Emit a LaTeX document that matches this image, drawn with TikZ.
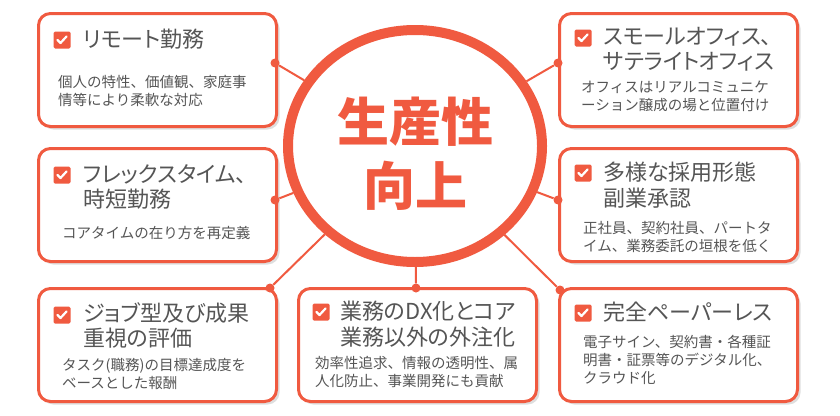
\documentclass[tikz,border=0pt]{standalone}
\usepackage{fontspec}
\setmainfont{Noto Sans CJK JP}
\newfontfamily\headfont{Noto Sans CJK JP}[RawFeature=+palt]
\usepackage{tikz}
\usetikzlibrary{shapes.geometric, shadows}

\definecolor{accent}{RGB}{240,90,64}
\definecolor{ink}{RGB}{85,85,85}

\begin{document}
\begin{tikzpicture}[x=1pt, y=-1pt,
    card/.style={draw=accent, line width=3pt, rounded corners=12pt, fill=white, anchor=north west,
      minimum width=238pt, minimum height=113pt, inner sep=0pt,
      drop shadow={shadow xshift=3pt, shadow yshift=-3pt, fill=black!25}},
    checkbox/.style={fill=accent, minimum size=17pt, inner sep=0pt, rounded corners=1.5pt},
    checkmark/.style={white, line width=2.2pt, line cap=round, line join=round},
    headline/.style={anchor=north west, inner sep=0pt, text=ink, align=left,
      font=\headfont\fontsize{22}{25.5}\selectfont},
    detail/.style={anchor=north west, inner sep=0pt, text=ink, align=left,
      font=\fontsize{14.5}{18}\selectfont},
    core/.style={ellipse, draw=accent, line width=10pt, fill=white, minimum width=254pt,
      minimum height=232pt, inner sep=0pt},
    slogan/.style={inner sep=0pt, text=accent, align=center,
      font=\fontsize{52}{64}\selectfont\bfseries},
    link/.style={accent, line width=2pt},
    joint/.style={circle, fill=accent, minimum size=9pt, inner sep=0pt}]

    % Page frame
    \fill[white] (0,0) rectangle (840,415);
    \useasboundingbox (0,0) rectangle (840,415);

    % Cards
    \node[card] (remote) at (37,12) {};
    \node[card] (office) at (558,12) {};
    \node[card] (flex) at (37,147) {};
    \node[card] (hiring) at (558,147) {};
    \node[card] (job) at (37,287) {};
    \node[card] (dx) at (297,287) {};
    \node[card] (paper) at (558,287) {};

    % Check boxes
    \node[checkbox] (cbA) at (62,40) {};
    \node[checkbox] (cbB) at (583,38) {};
    \node[checkbox] (cbC) at (62,175) {};
    \node[checkbox] (cbD) at (583,173) {};
    \node[checkbox] (cbE) at (62,315) {};
    \node[checkbox] (cbF) at (321,312) {};
    \node[checkbox] (cbG) at (583,313) {};
    \foreach \c in {cbA,cbB,cbC,cbD,cbE,cbF,cbG}
        \draw[checkmark] (\c.center) ++(-4.5,0) -- ++(3,3) -- ++(6,-6.5);

    % Headlines
    \node[headline] (tA) at (83,29) {リモート勤務};
    \node[headline] (tB) at (603,27) {スモールオフィス、\\サテライトオフィス};
    \node[headline] (tC) at (83,164) {フレックスタイム、\\時短勤務};
    \node[headline] (tD) at (603,162) {多様な採用形態\\副業承認};
    \node[headline] (tE) at (83,302) {ジョブ型及び成果\\重視の評価};
    \node[headline] (tF) at (340,301) {業務のDX化とコア\\業務以外の外注化};
    \node[headline] (tG) at (603,302) {完全ペーパーレス};

    % Details
    \node[detail] (sA) at (58,75) {個人の特性、価値観、家庭事\\情等により柔軟な対応};
    \node[detail] (sB) at (581,81) {オフィスはリアルコミュニケ\\ーション醸成の場と位置付け};
    \node[detail] (sC) at (62,226) {コアタイムの在り方を再定義};
    \node[detail] (sD) at (583,221) {正社員、契約社員、パートタ\\イム、業務委託の垣根を低く};
    \node[detail] (sE) at (62,358) {タスク(職務)の目標達成度を\\ベースとした報酬};
    \node[detail] (sF) at (315,356) {効率性追求、情報の透明性、属\\人化防止、事業開発にも貢献};
    \node[detail] (sG) at (583,335) {電子サイン、契約書・各種証\\明書・証票等のデジタル化、\\クラウド化};

    % Centre
    \node[core] (core) at (415,146) {};
    \node[slogan] (goal) at (415,154) {生産性\\向上};

    % Joints and links
    \node[joint] (jA) at (275,63) {};
    \node[joint] (jB) at (558,63) {};
    \node[joint] (jC) at (275,200) {};
    \node[joint] (jD) at (558,200) {};
    \node[joint] (jE) at (270,288) {};
    \node[joint] (jF) at (416,288) {};
    \node[joint] (jG) at (560,290) {};
    \foreach \j in {jA,jB,jC,jD,jE,jF,jG}
        \draw[link] (\j) -- (core);
\end{tikzpicture}
\end{document}
